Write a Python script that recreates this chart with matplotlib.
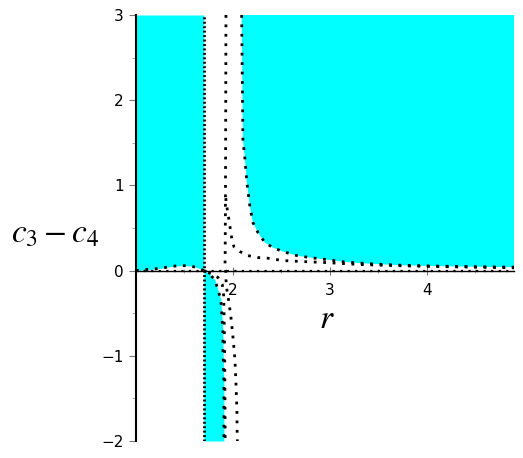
import numpy as np
import matplotlib
matplotlib.use('Agg')
import matplotlib.pyplot as plt

plt.rcParams['mathtext.fontset'] = 'stix'

# curves (r, c3-c4)
bump_r = [1.0, 1.1, 1.2, 1.28, 1.38, 1.47, 1.56, 1.64, 1.70]
bump_c = [0.0, 0.012, 0.02, 0.032, 0.051, 0.059, 0.055, 0.032, 0.0]

pole_r = 1.70

upper_r = [2.09, 2.103, 2.124, 2.144, 2.175, 2.206, 2.258, 2.33, 2.412, 2.515, 2.66,
           2.794, 2.969, 3.134, 3.309, 3.485, 3.722, 4.0, 4.34, 4.68, 4.9]
upper_c = [3.0, 1.54, 1.31, 1.035, 0.753, 0.565, 0.447, 0.329, 0.271, 0.224, 0.176,
           0.153, 0.129, 0.104, 0.088, 0.076, 0.064, 0.055, 0.048, 0.043, 0.04]

mid_r = [1.928, 1.926, 1.924, 1.922, 1.92, 1.918, 1.925, 1.928, 1.938, 1.959, 1.979,
         2.0, 2.021, 2.031, 2.041, 2.044, 2.046]
mid_c = [3.0, 2.0, 1.2, 0.6, 0.2, 0.05, 0.0, -0.106, -0.224, -0.376, -0.541,
         -0.776, -1.047, -1.318, -1.635, -1.953, -2.0]

branch_r = [1.926, 1.935, 1.948, 1.969, 1.99, 2.01, 2.072, 2.155, 2.258, 2.35, 2.515,
            2.72, 2.97, 3.31, 3.72, 4.0, 4.34, 4.9]
branch_c = [0.85, 0.76, 0.682, 0.52, 0.36, 0.282, 0.224, 0.176, 0.153, 0.147, 0.118,
            0.106, 0.094, 0.071, 0.057, 0.05, 0.043, 0.033]

inner_r = [1.70, 1.742, 1.814, 1.845, 1.876, 1.887, 1.897, 1.897, 1.907, 1.907, 1.907]
inner_c = [0.0, -0.024, -0.106, -0.224, -0.341, -0.541, -0.729, -0.929, -1.318, -1.718, -2.0]

twin_r = [1.70, 1.78, 1.845, 1.89, 1.905, 1.91, 1.915, 1.918, 1.92]
twin_c = [0.0, -0.04, -0.08, -0.16, -0.3, -0.6, -1.0, -1.5, -2.0]

x_ticks = [2, 3, 4]
y_ticks = [-2, -1, 0, 1, 2, 3]

cyan = '#00FFFF'
dots = dict(color='black', lw=2.0, linestyle=(0, (1, 2.4)), solid_capstyle='butt')

fig = plt.figure(figsize=(5.23, 4.58), dpi=100)
ax = fig.add_axes([136 / 523, 1 - 441 / 458, (514 - 136) / 523, (441 - 15) / 458])
ax.set_xlim(1, 4.9)
ax.set_ylim(-2, 3)

# shaded regions
ax.fill_between(bump_r, bump_c, 3, color=cyan, lw=0)
ax.fill_betweenx(inner_c, pole_r, inner_r, color=cyan, lw=0)
ax.fill(upper_r + [4.9], upper_c + [3.0], color=cyan, lw=0)

# dotted curves
ax.plot(bump_r, bump_c, **dots)
ax.plot([pole_r, pole_r], [-2, 3], color='black', lw=2.0, linestyle=(0, (0.7, 0.9)))
ax.plot(upper_r, upper_c, **dots)
ax.plot(mid_r, mid_c, **dots)
ax.plot(branch_r, branch_c, **dots)
ax.plot(inner_r, inner_c, **dots)
ax.plot(twin_r, twin_c, color='black', lw=2.0, linestyle=(1.7, (1, 2.4)))
ax.plot([1, 4.9], [0, 0], color='black', lw=1.6, linestyle=(0, (1, 2.4)))

# axes in maple style
for s in ['top', 'right']:
    ax.spines[s].set_visible(False)
ax.spines['left'].set_linewidth(1.5)
ax.spines['bottom'].set_position(('data', 0))
ax.spines['bottom'].set_linewidth(1.0)

ax.set_xticks(x_ticks)
ax.set_xticks([1.5, 2.5, 3.5, 4.5], minor=True)
ax.set_yticks(y_ticks)
ax.set_yticks([-1.5, -0.5, 0.5, 1.5, 2.5], minor=True)
ax.tick_params(axis='x', which='major', direction='inout', length=6, width=0.8,
               pad=6, labelsize=11, color='#777777')
ax.tick_params(axis='x', which='minor', direction='inout', length=3, width=0.6,
               color='#999999')
ax.tick_params(axis='y', which='major', direction='out', length=5, width=0.8,
               pad=4, labelsize=11, color='#777777')
ax.tick_params(axis='y', which='minor', direction='out', length=3, width=0.6,
               color='#999999')

fig.text(55 / 523, 1 - 233 / 458, r'$c_3-c_4$', fontsize=24, ha='center', va='center')
fig.text(327 / 523, 1 - 318 / 458, r'$r$', fontsize=24, ha='center', va='center')

fig.savefig('out.png', dpi=100)
